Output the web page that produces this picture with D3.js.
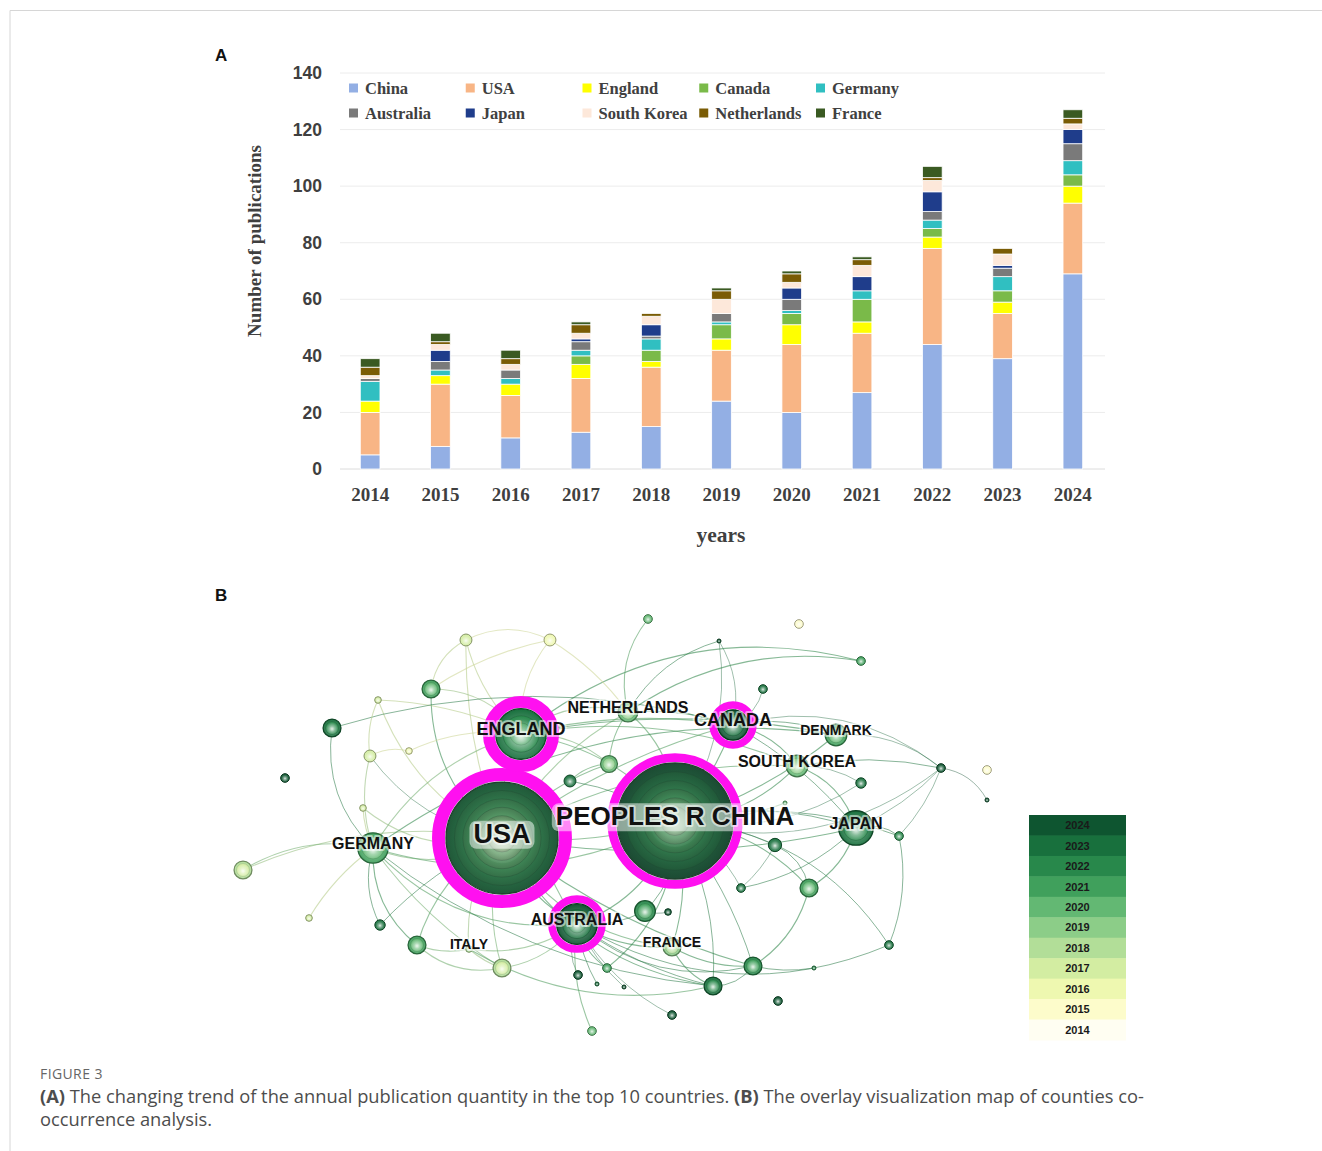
<!DOCTYPE html>
<html>
<head>
<meta charset="utf-8">
<script src="https://cdn.jsdelivr.net/npm/d3@7"></script>
<style>
  body { margin: 0; background: #fff; }
  svg { display: block; }
</style>
</head>
<body>
<svg id="fig" width="1322" height="1151"></svg>
<script>
// ---------- Panel A: annual publications of the top 10 countries ----------
const years = ["2014","2015","2016","2017","2018","2019","2020","2021","2022","2023","2024"];
const countries = ["China","USA","England","Canada","Germany","Australia","Japan","South Korea","Netherlands","France"];
const china       = [5, 8, 11, 13, 15, 24, 20, 27, 44, 39, 69];
const usa         = [15, 22, 15, 19, 21, 18, 24, 21, 34, 16, 25];
const england     = [4, 3, 4, 5, 2, 4, 7, 4, 4, 4, 6];
const canada      = [0, 0, 0, 3, 4, 5, 4, 8, 3, 4, 4];
const germany     = [7, 2, 2, 2, 4, 1, 1, 3, 3, 5, 5];
const australia   = [1, 3, 3, 3, 1, 3, 4, 0, 3, 3, 6];
const japan       = [0, 4, 0, 1, 4, 0, 4, 5, 7, 1, 5];
const southKorea  = [1, 2, 2, 2, 3, 5, 2, 4, 4, 4, 2];
const netherlands = [3, 1, 2, 3, 1, 3, 3, 2, 1, 2, 2];
const france      = [3, 3, 3, 1, 0, 1, 1, 1, 4, 0, 3];
const yTicks = [0, 20, 40, 60, 80, 100, 120, 140];
const countryColors = ["#93afe4","#f8b585","#ffff00","#7aba49","#30bfc1","#7a7a7a","#1f3d8b","#fde8da","#7a5c05","#3a5a22"];

// ---------- Panel B: country co-occurrence network ----------
// [id, label, layoutX, layoutY, frequency, year, centrality]
const netNodes = [
  ["PEOPLES R CHINA","PEOPLES R CHINA",58.0,49.05,340,2024,0.20],
  ["USA","USA",34.93,53.1,317,2023,0.45],
  ["ENGLAND","ENGLAND",37.47,28.33,68,2023,0.38],
  ["CANADA","CANADA",65.73,26.19,26,2024,0.13],
  ["AUSTRALIA","AUSTRALIA",44.93,73.57,45,2024,0.13],
  ["GERMANY","GERMANY",17.73,55.48,26,2021,0],
  ["JAPAN","JAPAN",82.13,50.71,33,2023,0],
  ["NETHERLANDS","NETHERLANDS",51.73,23.1,12,2020,0],
  ["SOUTH KOREA","SOUTH KOREA",74.27,35.95,14,2020,0],
  ["DENMARK","DENMARK",79.47,28.57,14,2021,0],
  ["FRANCE","FRANCE",57.6,79.05,10,2019,0],
  ["ITALY","ITALY",30.53,79.52,2,2018,0],
  ["c01","",30.13,5.95,5,2017,0],
  ["c02","",41.33,5.95,5,2016,0],
  ["c03","",54.4,0.95,3,2020,0],
  ["c04","",25.47,17.62,10,2021,0],
  ["c05","",12.27,26.9,10,2023,0],
  ["c06","",18.4,20.24,2,2017,0],
  ["c07","",17.33,33.57,5,2017,0],
  ["c08","",22.53,32.38,2,2016,0],
  ["c09","",6.0,38.81,3,2024,0],
  ["c10","",16.4,45.95,2,2017,0],
  ["c11","",0.4,60.71,10,2018,0],
  ["c12","",9.2,72.14,2,2017,0],
  ["c13","",18.67,73.81,4,2023,0],
  ["c14","",23.6,78.57,10,2021,0],
  ["c15","",34.93,84.05,10,2018,0],
  ["c16","",44.0,39.52,5,2023,0],
  ["c17","",49.2,35.48,9,2020,0],
  ["c18","",54.0,70.48,13,2022,0],
  ["c19","",57.07,70.71,2,2024,0],
  ["c20","",48.93,84.05,3,2021,0],
  ["c21","",45.07,85.71,3,2024,0],
  ["c22","",47.6,87.86,1,2023,0],
  ["c23","",51.2,88.57,1,2024,0],
  ["c24","",63.07,88.33,10,2023,0],
  ["c25","",57.6,95.24,3,2024,0],
  ["c26","",46.93,99.05,3,2020,0],
  ["c27","",74.53,2.14,3,2015,0],
  ["c28","",63.87,6.19,1,2024,0],
  ["c29","",82.8,10.95,3,2021,0],
  ["c30","",69.73,17.62,3,2023,0],
  ["c31","",93.47,36.43,3,2024,0],
  ["c32","",99.6,36.9,3,2015,0],
  ["c33","",99.6,44.05,1,2024,0],
  ["c34","",82.8,40.0,4,2023,0],
  ["c35","",87.87,52.62,3,2022,0],
  ["c36","",71.33,54.76,6,2023,0],
  ["c37","",66.8,65.0,3,2023,0],
  ["c38","",75.87,65.0,10,2021,0],
  ["c39","",86.53,78.57,3,2023,0],
  ["c40","",76.53,84.05,1,2022,0],
  ["c41","",68.4,83.57,10,2022,0],
  ["c42","",71.73,91.9,3,2024,0],
  ["c43","",72.67,44.76,1,2020,0]
];

// [source, target, year of first co-occurrence]
const netLinks = [
  ["USA","PEOPLES R CHINA",2020],["USA","ENGLAND",2019],["USA","AUSTRALIA",2021],["USA","GERMANY",2019],
  ["USA","CANADA",2020],["USA","NETHERLANDS",2019],["USA","ITALY",2018],["USA","FRANCE",2020],
  ["USA","JAPAN",2021],["USA","SOUTH KOREA",2020],["USA","c07",2023],["USA","c04",2021],["USA","c01",2017],
  ["USA","c15",2019],["USA","c14",2020],["USA","c24",2021],["USA","c41",2021],["USA","c17",2020],
  ["USA","c06",2017],["USA","c10",2018],["USA","c13",2022],["USA","c11",2018],
  ["PEOPLES R CHINA","ENGLAND",2020],["PEOPLES R CHINA","AUSTRALIA",2021],["PEOPLES R CHINA","CANADA",2021],
  ["PEOPLES R CHINA","JAPAN",2022],["PEOPLES R CHINA","SOUTH KOREA",2021],["PEOPLES R CHINA","NETHERLANDS",2020],
  ["PEOPLES R CHINA","DENMARK",2021],["PEOPLES R CHINA","FRANCE",2021],["PEOPLES R CHINA","GERMANY",2020],
  ["PEOPLES R CHINA","c31",2023],["PEOPLES R CHINA","c36",2023],["PEOPLES R CHINA","c37",2023],
  ["PEOPLES R CHINA","c38",2021],["PEOPLES R CHINA","c39",2022],["PEOPLES R CHINA","c41",2022],
  ["PEOPLES R CHINA","c24",2022],["PEOPLES R CHINA","c28",2023],["PEOPLES R CHINA","c18",2022],
  ["PEOPLES R CHINA","c16",2022],["PEOPLES R CHINA","c35",2022],["PEOPLES R CHINA","c34",2023],
  ["PEOPLES R CHINA","c20",2021],["PEOPLES R CHINA","c43",2020],
  ["ENGLAND","AUSTRALIA",2020],["ENGLAND","GERMANY",2019],["ENGLAND","NETHERLANDS",2019],["ENGLAND","CANADA",2020],
  ["ENGLAND","c01",2017],["ENGLAND","c02",2016],["ENGLAND","c04",2018],["ENGLAND","c06",2017],["ENGLAND","c08",2016],
  ["ENGLAND","c17",2019],["ENGLAND","c29",2021],["ENGLAND","DENMARK",2021],["ENGLAND","SOUTH KOREA",2020],
  ["GERMANY","c11",2019],["GERMANY","AUSTRALIA",2020],["GERMANY","c10",2017],["GERMANY","c07",2018],
  ["GERMANY","c13",2022],["GERMANY","c14",2021],["GERMANY","c15",2019],["GERMANY","c24",2022],
  ["GERMANY","DENMARK",2021],["GERMANY","c05",2022],["GERMANY","c12",2017],
  ["AUSTRALIA","FRANCE",2021],["AUSTRALIA","c20",2021],["AUSTRALIA","c21",2023],["AUSTRALIA","c22",2022],
  ["AUSTRALIA","c26",2020],["AUSTRALIA","c15",2019],["AUSTRALIA","c41",2022],["AUSTRALIA","c24",2022],
  ["AUSTRALIA","c18",2022],["AUSTRALIA","ITALY",2019],["AUSTRALIA","c39",2022],["AUSTRALIA","c23",2023],
  ["AUSTRALIA","c25",2023],
  ["CANADA","c28",2023],["CANADA","c30",2023],["CANADA","NETHERLANDS",2021],["CANADA","DENMARK",2022],
  ["CANADA","SOUTH KOREA",2021],["CANADA","c31",2023],["CANADA","JAPAN",2022],["CANADA","c05",2022],
  ["NETHERLANDS","c28",2022],["NETHERLANDS","c03",2020],["NETHERLANDS","c02",2016],["NETHERLANDS","c17",2020],
  ["NETHERLANDS","c29",2021],
  ["JAPAN","c35",2022],["JAPAN","c31",2023],["JAPAN","c37",2022],["JAPAN","c38",2021],["JAPAN","SOUTH KOREA",2021],
  ["SOUTH KOREA","c31",2022],["SOUTH KOREA","c34",2023],["DENMARK","c31",2023],["c31","c33",2024],
  ["c31","c35",2023],["c35","c39",2022],["c38","c41",2021],["c36","c38",2022],["c36","c37",2023],
  ["FRANCE","c41",2021],["FRANCE","c24",2021],["c24","c41",2022],["c41","c40",2022],["c18","c19",2024],
  ["c16","c17",2020],["c01","c04",2017],["c02","c04",2016],["c06","c07",2017],["c08","c07",2016],
  ["c01","c02",2016],["ITALY","c15",2018],["ITALY","c14",2019],["ITALY","c24",2020],["c14","c15",2019]
];

const overlayYears = [2014,2015,2016,2017,2018,2019,2020,2021,2022,2023,2024];
const overlayColors = ["#fffef2","#fdfccb","#eef8b0","#d3eda2","#b2de98","#8ccd88","#63b873","#40a05c","#28884b","#18703d","#0e5530"];

// ---------- drawing ----------
const svg = d3.select("#fig");

// card frame
svg.append("path").attr("d", "M10,1151 V10.5 H1322")
  .attr("fill", "none").attr("stroke", "#d6d6d6").attr("stroke-width", 1);

const serif = "'Liberation Serif','Times New Roman',serif";
const sans = "'Liberation Sans',Arial,sans-serif";

// panel letters
svg.append("text").attr("x", 215).attr("y", 61).text("A")
  .attr("font-family", sans).attr("font-weight", "bold").attr("font-size", 17).attr("fill", "#111");
svg.append("text").attr("x", 215).attr("y", 601).text("B")
  .attr("font-family", sans).attr("font-weight", "bold").attr("font-size", 17).attr("fill", "#111");

// stacked data
const seriesValues = [china, usa, england, canada, germany, australia, japan, southKorea, netherlands, france];
const rows = years.map((yr, i) => {
  const row = { year: yr };
  countries.forEach((c, k) => { row[c] = seriesValues[k][i]; });
  return row;
});
const stacked = d3.stack().keys(countries)(rows);

const x = d3.scaleBand().domain(years).range([335, 1108]).paddingInner(0.72).paddingOuter(0.36);
const y = d3.scaleLinear().domain([0, 140]).range([469, 73]);
const color = d3.scaleOrdinal(countries, countryColors);

const chartA = svg.append("g");

// horizontal grid
chartA.append("g").selectAll("line").data(yTicks).join("line")
  .attr("x1", 340).attr("x2", 1105)
  .attr("y1", d => y(d)).attr("y2", d => y(d))
  .attr("stroke", d => d === 0 ? "#dcdcdc" : "#ececec").attr("stroke-width", 1);

// y axis labels
const yAxis = chartA.append("g").attr("transform", "translate(335,0)")
  .call(d3.axisLeft(y).tickValues(yTicks).tickSize(0).tickPadding(13));
yAxis.select(".domain").remove();
yAxis.selectAll("text").attr("font-family", sans).attr("font-weight", "bold")
  .attr("font-size", 17.5).attr("fill", "#3f3f3f");

// x axis labels
const xAxis = chartA.append("g").attr("transform", "translate(0,469)")
  .call(d3.axisBottom(x).tickSize(0).tickPadding(19));
xAxis.select(".domain").remove();
xAxis.selectAll("text").attr("font-family", serif).attr("font-weight", "bold")
  .attr("font-size", 19).attr("fill", "#3f3f3f");

// bars
chartA.append("g").selectAll("g").data(stacked).join("g")
  .attr("fill", d => color(d.key))
  .selectAll("rect").data(d => d.filter(s => s[1] > s[0])).join("rect")
  .attr("x", d => x(d.data.year))
  .attr("width", x.bandwidth())
  .attr("y", d => y(d[1]))
  .attr("height", d => y(d[0]) - y(d[1]))
  .attr("stroke", "#fff").attr("stroke-width", 0.8);

// axis titles
chartA.append("text").attr("x", 721).attr("y", 542).attr("text-anchor", "middle")
  .attr("font-family", serif).attr("font-weight", "bold").attr("font-size", 21.5)
  .attr("fill", "#3f3f3f").text("years");
chartA.append("text").attr("transform", "translate(261,241) rotate(-90)").attr("text-anchor", "middle")
  .attr("font-family", serif).attr("font-weight", "bold").attr("font-size", 19)
  .attr("fill", "#3f3f3f").text("Number of publications");

// legend
const legX = d3.scaleLinear().domain([0, 4]).range([349, 816]);
const legY = d3.scaleLinear().domain([0, 1]).range([88, 113]);
const leg = chartA.append("g").selectAll("g").data(countries).join("g")
  .attr("transform", (d, i) => `translate(${legX(i % 5)},${legY(Math.floor(i / 5))})`);
leg.append("rect").attr("x", 0).attr("y", -4.5).attr("width", 9).attr("height", 9)
  .attr("fill", d => color(d));
leg.append("text").attr("x", 16).attr("dy", "0.35em").text(d => d)
  .attr("font-family", serif).attr("font-weight", "bold").attr("font-size", 16.5).attr("fill", "#404040");

// ---------- Panel B ----------
const nx = d3.scaleLinear().domain([0, 100]).range([240, 990]);
const ny = d3.scaleLinear().domain([0, 100]).range([615, 1035]);
const rScale = d3.scaleSqrt().domain([1, 340]).range([2, 58]);
const ringW = d3.scaleLinear().domain([0.1, 0.45]).range([7, 13]);
const yearColor = d3.scaleOrdinal(overlayYears, overlayColors);
const labelSize = { "PEOPLES R CHINA": 26, "USA": 27, "ENGLAND": 18, "CANADA": 18, "AUSTRALIA": 16,
  "GERMANY": 16, "JAPAN": 16, "NETHERLANDS": 16, "SOUTH KOREA": 16, "DENMARK": 14, "FRANCE": 14, "ITALY": 14 };

const nodes = netNodes.map(n => ({ id: n[0], label: n[1], x: nx(n[2]), y: ny(n[3]),
  freq: n[4], year: n[5], centrality: n[6], r: rScale(n[4]) }));
const byId = new Map(nodes.map(n => [n.id, n]));

const defs = svg.append("defs");
overlayYears.forEach(yr => {
  const c = yearColor(yr);
  const g = defs.append("radialGradient").attr("id", "yr" + yr)
    .attr("cx", "50%").attr("cy", "55%").attr("r", "55%");
  g.append("stop").attr("offset", "0%").attr("stop-color", d3.interpolateRgb(c, "#ffffff")(0.45));
  g.append("stop").attr("offset", "100%").attr("stop-color", c);
  // muted shading used for the tree rings of the largest nodes
  const muted = d3.interpolateRgb(c, "#4d7a62")(0.35);
  const f = defs.append("radialGradient").attr("id", "ring" + yr)
    .attr("cx", "50%").attr("cy", "50%").attr("r", "50%");
  f.append("stop").attr("offset", "72%").attr("stop-color", d3.color(muted).darker(0.2));
  f.append("stop").attr("offset", "100%").attr("stop-color", d3.color(muted).darker(0.75));
});
const gloss = defs.append("radialGradient").attr("id", "gloss").attr("cx", "50%").attr("cy", "58%").attr("r", "50%");
gloss.append("stop").attr("offset", "0%").attr("stop-color", "#fff").attr("stop-opacity", 0.75);
gloss.append("stop").attr("offset", "45%").attr("stop-color", "#fff").attr("stop-opacity", 0.25);
gloss.append("stop").attr("offset", "100%").attr("stop-color", "#fff").attr("stop-opacity", 0);

const net = svg.append("g");
const cx0 = nx(50), cy0 = ny(50);

// links: gently curved, bowing away from the layout centre
net.append("g").attr("fill", "none").selectAll("path").data(netLinks).join("path")
  .attr("d", (l, i) => {
    const a = byId.get(l[0]), b = byId.get(l[1]);
    const mx = (a.x + b.x) / 2, my = (a.y + b.y) / 2;
    const dx = b.x - a.x, dy = b.y - a.y;
    const len = Math.hypot(dx, dy) || 1;
    let px = -dy / len, py = dx / len;
    if ((mx - cx0) * px + (my - cy0) * py < 0) { px = -px; py = -py; }
    const k = len * (0.1 + (i % 4) * 0.05);
    const p = d3.path();
    p.moveTo(a.x, a.y);
    p.quadraticCurveTo(mx + px * k, my + py * k, b.x, b.y);
    return p.toString();
  })
  .attr("stroke", l => d3.color(yearColor(l[2])).darker(0.4))
  .attr("stroke-opacity", l => l[2] >= 2023 ? 0.45 : 0.6)
  .attr("stroke-width", l => l[2] >= 2022 ? 0.9 : 1.1);

// centrality rings
const sorted = nodes.slice().sort((a, b) => a.r - b.r);
net.append("g").selectAll("circle").data(nodes.filter(n => n.centrality >= 0.1)).join("circle")
  .attr("cx", d => d.x).attr("cy", d => d.y)
  .attr("r", d => d.r + 1 + ringW(d.centrality) / 2)
  .attr("fill", "none").attr("stroke", "#ff10f0").attr("stroke-width", d => ringW(d.centrality));

// nodes with annual tree rings
const ng = net.append("g").selectAll("g").data(sorted).join("g")
  .attr("transform", d => `translate(${d.x},${d.y})`);
ng.each(function (d) {
  const g = d3.select(this);
  const n = d.freq > 200 ? 6 : d.freq > 40 ? 3 : d.freq > 8 ? 2 : 1;
  for (let k = 0; k < n; k++) {
    const yr = Math.max(2014, d.year - k);
    const big = n > 3;
    g.append("circle").attr("r", d.r * (1 - k * (big ? 0.15 : 0.28)))
      .attr("fill", big ? `url(#ring${yr})` : `url(#yr${yr})`)
      .attr("stroke", big ? "#1f3f2d" : d3.color(yearColor(d.year)).darker(1.3))
      .attr("stroke-width", k === 0 ? (d.r > 8 ? 1.3 : 1) : 0.6)
      .attr("stroke-opacity", k === 0 ? 1 : 0.45);
  }
  g.append("circle").attr("r", d.r * (d.freq > 200 ? 0.45 : 0.7)).attr("fill", "url(#gloss)")
    .attr("opacity", d.freq > 200 ? 0.7 : 1);
});

// labels
const lab = net.append("g").selectAll("g").data(nodes.filter(n => n.label)).join("g")
  .attr("transform", d => `translate(${d.x},${d.y - 5})`);
lab.append("text").text(d => d.label)
  .attr("text-anchor", "middle").attr("dy", "0.36em")
  .attr("font-family", sans).attr("font-weight", "bold")
  .attr("font-size", d => labelSize[d.label])
  .attr("fill", "#111")
  .attr("stroke", "rgba(255,255,255,0.55)").attr("stroke-width", 4)
  .attr("stroke-linejoin", "round").attr("paint-order", "stroke");
lab.filter(d => d.freq > 200).each(function () {
  const g = d3.select(this);
  const bb = g.select("text").node().getBBox();
  g.insert("rect", "text").attr("x", bb.x - 4).attr("y", bb.y + 2)
    .attr("width", bb.width + 8).attr("height", bb.height - 2).attr("rx", 7)
    .attr("fill", "#fff").attr("fill-opacity", 0.5);
});

// time overlay legend
const legendYears = overlayYears.slice().reverse();
const ly = d3.scaleBand().domain(legendYears).range([815, 1040]);
const yl = svg.append("g").selectAll("g").data(legendYears).join("g")
  .attr("transform", d => `translate(1029,${ly(d)})`);
yl.append("rect").attr("width", 97).attr("height", ly.bandwidth() + 0.5).attr("fill", d => yearColor(d));
yl.append("text").attr("x", 48.5).attr("y", ly.bandwidth() / 2).attr("dy", "0.36em")
  .attr("text-anchor", "middle").text(d => d)
  .attr("font-family", sans).attr("font-weight", "bold").attr("font-size", 11).attr("fill", "#1a1a1a");

// ---------- caption ----------
const capFont = "'Open Sans','Noto Sans',sans-serif";
svg.append("text").attr("x", 40).attr("y", 1079).text("FIGURE 3")
  .attr("font-family", capFont).attr("font-size", 14).attr("fill", "#666").attr("letter-spacing", 0.4);
const cap1 = svg.append("text").attr("x", 40).attr("y", 1103)
  .attr("font-family", capFont).attr("font-size", 18.3).attr("fill", "#4d4d4d");
cap1.append("tspan").attr("font-weight", "bold").text("(A)");
cap1.append("tspan").text(" The changing trend of the annual publication quantity in the top 10 countries. ");
cap1.append("tspan").attr("font-weight", "bold").text("(B)");
cap1.append("tspan").text(" The overlay visualization map of counties co-");
svg.append("text").attr("x", 40).attr("y", 1126).text("occurrence analysis.")
  .attr("font-family", capFont).attr("font-size", 18.3).attr("fill", "#4d4d4d");
</script>
</body>
</html>
